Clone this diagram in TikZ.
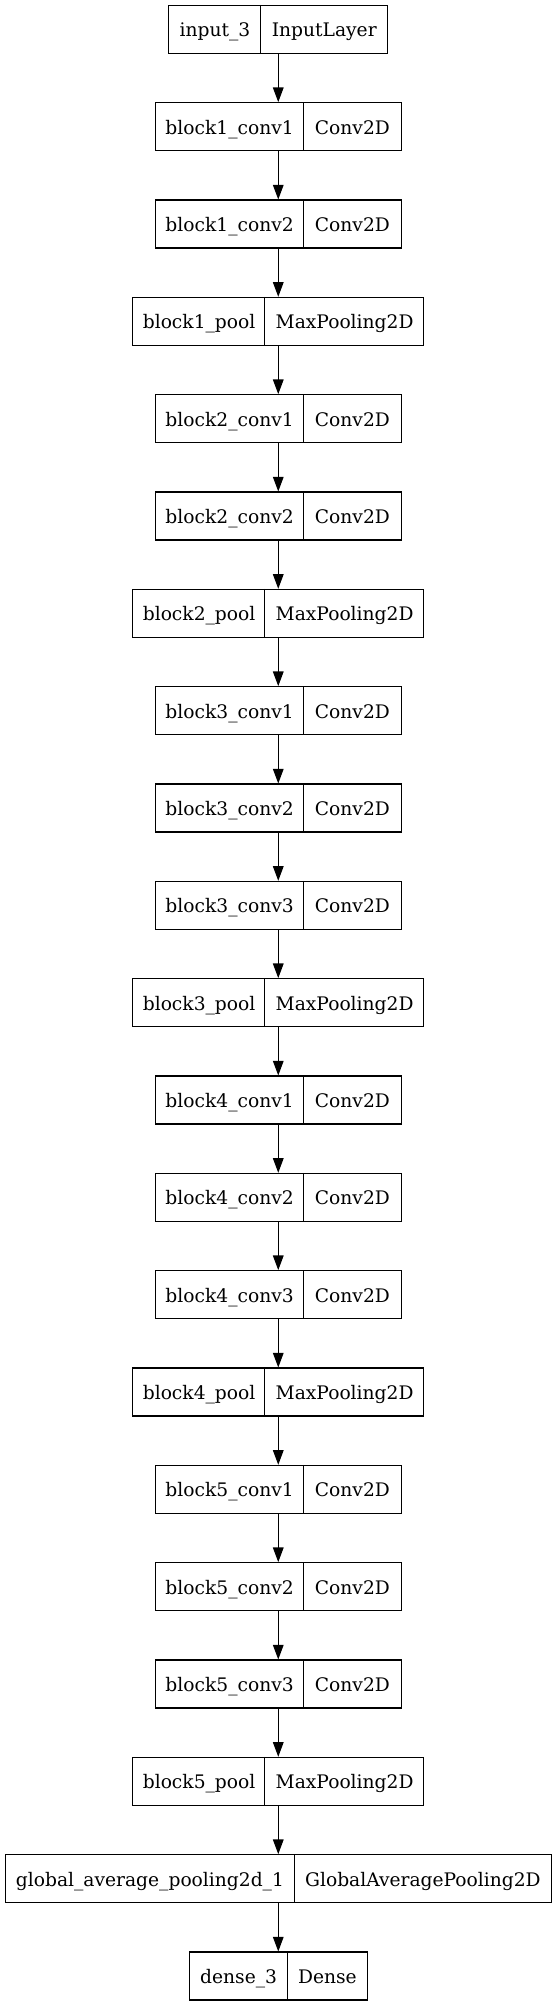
\documentclass[tikz,border=0pt]{standalone}
\usepackage{fontspec}
\usepackage{tikz}
\usetikzlibrary{arrows.meta}
\newfontfamily\layerfont{DejaVu Serif}

\begin{document}
\begin{tikzpicture}[
                x=1pt, y=1pt,
                layer/.style={draw, line width=0.8pt, inner sep=0pt, minimum height=36pt,
                    text height=14pt, text depth=3pt,
                    font={\layerfont\fontsize{14pt}{16pt}\selectfont}},
                divider/.style={line width=0.8pt},
                edge/.style={line width=0.8pt, -{Triangle[length=11pt,width=8pt]}}
            ]
                \useasboundingbox (0,0) rectangle (417,-1505.25);
                \def\midx{208.7}
                \foreach \lname/\ltype/\lw/\rw [count=\i from 0] in {
                    input\_3/InputLayer/69/95,
                    block1\_conv1/Conv2D/111.25/73,
                    block1\_conv2/Conv2D/111.25/73,
                    block1\_pool/MaxPooling2D/99.5/118.75,
                    block2\_conv1/Conv2D/111.25/73,
                    block2\_conv2/Conv2D/111.25/73,
                    block2\_pool/MaxPooling2D/99.5/118.75,
                    block3\_conv1/Conv2D/111.25/73,
                    block3\_conv2/Conv2D/111.25/73,
                    block3\_conv3/Conv2D/111.25/73,
                    block3\_pool/MaxPooling2D/99.5/118.75,
                    block4\_conv1/Conv2D/111.25/73,
                    block4\_conv2/Conv2D/111.25/73,
                    block4\_conv3/Conv2D/111.25/73,
                    block4\_pool/MaxPooling2D/99.5/118.75,
                    block5\_conv1/Conv2D/111.25/73,
                    block5\_conv2/Conv2D/111.25/73,
                    block5\_conv3/Conv2D/111.25/73,
                    block5\_pool/MaxPooling2D/99.5/118.75,
                    global\_average\_pooling2d\_1/GlobalAveragePooling2D/217/192.5,
                    dense\_3/Dense/73.75/59.5}
                {
                    \node[layer] (l\i) at (\midx, -22-73*\i)
                        {\makebox[\lw pt]{\lname}\makebox[\rw pt]{\ltype}};
                    \draw[divider] ([xshift=\lw pt]l\i.north west) -- ([xshift=\lw pt]l\i.south west);
                }
                \foreach \i [evaluate=\i as \j using int(\i+1)] in {0,...,19}
                    \draw[edge] (l\i.south) -- (l\j.north);
            \end{tikzpicture}
\end{document}
